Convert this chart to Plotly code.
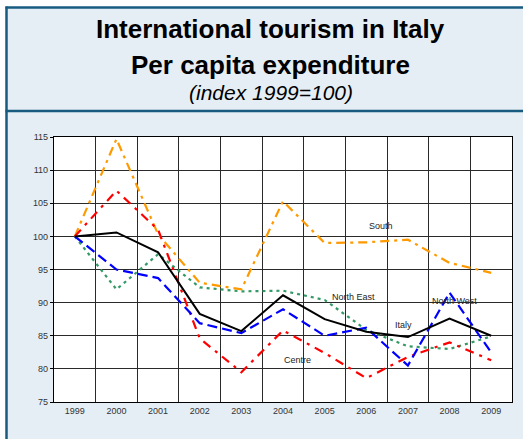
import plotly.graph_objects as go

years = ["1999", "2000", "2001", "2002", "2003", "2004", "2005", "2006", "2007", "2008", "2009"]
italy = [100, 100.6, 97.6, 88.3, 85.7, 91.1, 87.5, 85.6, 84.8, 87.6, 85.0]
north_west = [100, 95.0, 93.7, 86.9, 85.4, 89.0, 85.0, 86.2, 80.5, 91.5, 82.5]
north_east = [100, 92.0, 97.3, 92.3, 91.7, 91.8, 90.4, 85.9, 83.4, 83.0, 84.9]
centre = [100, 106.9, 101.0, 84.6, 79.5, 85.8, 82.4, 78.6, 81.8, 84.0, 81.3]
south = [100, 114.7, 100.3, 93.0, 92.0, 105.3, 99.0, 99.1, 99.5, 96.0, 94.5]

W, H = 523, 439
ML, MR, MT, MB = 54, 11, 137, 37
PW, PH = W - ML - MR, H - MT - MB


def px(x):
    return (x - ML) / PW


def py(y):
    return (H - MB - y) / PH


fig = go.Figure()

series = [
    ("North East", north_east, "#339966", "3px,4px", 2.2),
    ("South", south, "#FF9900", "9px,5px,3px,5px", 2.2),
    ("Centre", centre, "#FF0000", "9px,6px,3px,6px", 2.2),
    ("North West", north_west, "#0000FF", "10px,5px", 2.2),
    ("Italy", italy, "#000000", "solid", 2.0),
]
for name, vals, col, dash, w in series:
    fig.add_trace(go.Scatter(x=years, y=vals, mode="lines", name=name,
                             line=dict(color=col, width=w, dash=dash)))

labels = [
    ("South", 7.36, 101.5),
    ("North East", 6.69, 90.9),
    ("North West", 9.12, 90.3),
    ("Italy", 7.90, 86.55),
    ("Centre", 5.35, 81.4),
]
for t, x, y in labels:
    fig.add_annotation(x=x, y=y, xref="x", yref="y", text=t, showarrow=False,
                       font=dict(size=9, color="#222222"))

fig.add_annotation(x=px(270), y=py(28.5), xref="paper", yref="paper",
                   text="<b>International tourism in Italy</b>", showarrow=False,
                   font=dict(size=26, color="#000000"), yanchor="middle")
fig.add_annotation(x=px(270), y=py(65), xref="paper", yref="paper",
                   text="<b>Per capita expenditure</b>", showarrow=False,
                   font=dict(size=26, color="#000000"), yanchor="middle")
fig.add_annotation(x=px(271), y=py(92), xref="paper", yref="paper",
                   text="<i>(index 1999=100)</i>", showarrow=False,
                   font=dict(size=21, color="#000000"), yanchor="middle")

frame = "#175B80"
fig.add_shape(type="rect", xref="paper", yref="paper", x0=px(6.5), x1=px(540),
              y0=py(460), y1=py(7.5), fillcolor="#E6EEF5", line=dict(width=0), layer="below")
fig.add_shape(type="rect", xref="paper", yref="paper", x0=0, x1=1, y0=0, y1=1,
              fillcolor="#FFFFFF", line=dict(width=0), layer="below")
fig.add_shape(type="line", xref="paper", yref="paper", x0=px(6.5), x1=px(6.5),
              y0=py(6.5), y1=py(460), line=dict(color=frame, width=2.5))
fig.add_shape(type="line", xref="paper", yref="paper", x0=px(5.5), x1=px(540),
              y0=py(7.5), y1=py(7.5), line=dict(color=frame, width=2.5))
fig.add_shape(type="line", xref="paper", yref="paper", x0=px(5.5), x1=px(540),
              y0=py(111), y1=py(111), line=dict(color=frame, width=2.5))

fig.update_layout(
    width=W, height=H,
    margin=dict(l=ML, r=MR, t=MT, b=MB),
    paper_bgcolor="#FFFFFF",
    plot_bgcolor="rgba(0,0,0,0)",
    showlegend=False,
    font=dict(family="Liberation Sans, Arial, sans-serif", size=9, color="#333333"),
)
fig.update_xaxes(type="category", tickson="boundaries", showgrid=True,
                 gridcolor="#2A2A2A", gridwidth=1.4, showline=True, linecolor="#000000",
                 linewidth=1.4, mirror=True, ticks="", tickfont=dict(size=9, color="#333333"),
                 range=[-0.5, 10.5], fixedrange=True)
fig.update_yaxes(range=[75, 115], dtick=5, showgrid=True, gridcolor="#2A2A2A",
                 gridwidth=1.4, showline=True, linecolor="#000000", linewidth=1.4,
                 mirror=True, ticks="outside", ticklen=3, tickcolor="#000000",
                 tickfont=dict(size=9, color="#333333"), zeroline=False, fixedrange=True)

fig.write_html("out.html", config={"displayModeBar": False},
               post_script="document.body.style.margin='0px';document.body.style.overflow='hidden';")
